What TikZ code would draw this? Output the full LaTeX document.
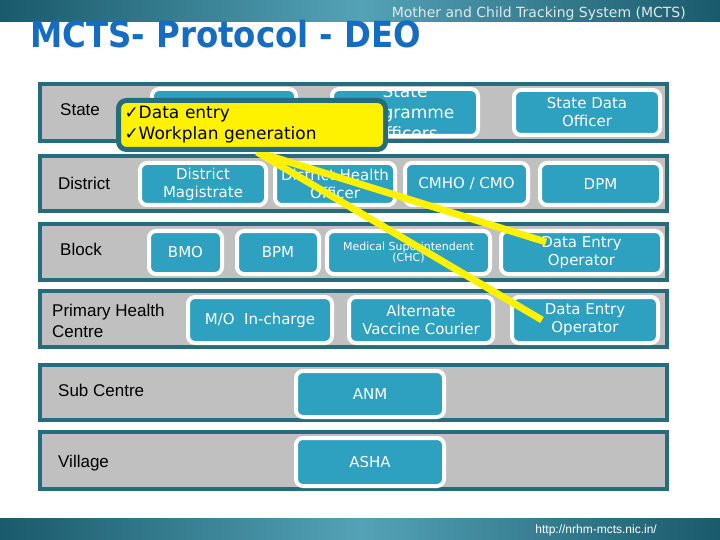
\documentclass[tikz,border=0pt]{standalone}
\usepackage{fontspec}
\setmainfont{DejaVu Sans}
\newfontfamily\arialfont{Liberation Sans}
\usetikzlibrary{positioning}
\usepackage{xcolor}
\definecolor{rowteal}{RGB}{36,108,126}
\definecolor{rowgrey}{RGB}{192,192,192}
\definecolor{postteal}{RGB}{46,160,192}
\definecolor{titleblue}{RGB}{22,108,192}
\definecolor{banddark}{RGB}{26,90,108}
\definecolor{bandmid}{RGB}{84,162,182}
\pgfdeclarelayer{top}
\pgfsetlayers{main,top}

\begin{document}
\begin{tikzpicture}[x=1pt, y=-1pt]
    \tikzstyle{tier} = [draw=rowteal, fill=rowgrey, line width=4pt, minimum width=627pt, inner sep=0pt];
    \tikzstyle{post} = [draw=white, fill=postteal, line width=4pt, rounded corners=7pt, text=white, align=center, inner sep=0pt, font=\fontsize{15}{18}\selectfont];
    \tikzstyle{lvl} = [anchor=west, align=left, inner sep=0pt, font=\arialfont\fontsize{17}{21}\selectfont];
    \tikzstyle{note} = [draw=rowteal, fill=yellow, line width=5pt, rounded corners=8pt, align=left, text width=255pt, inner sep=6pt, minimum height=49pt, font=\fontsize{17}{21}\selectfont];
    \tikzstyle{pointer} = [yellow, line width=7pt];

    \useasboundingbox (0,0) rectangle (720,540);
    \fill[white] (0,0) rectangle (720,540);

    % banners
    \shade[left color=banddark, right color=banddark, middle color=bandmid] (0,0) rectangle (720,22);
    \shade[left color=banddark, right color=banddark, middle color=bandmid] (0,518) rectangle (720,540);
    \node[anchor=base east, inner sep=0pt, text=white!85!rowteal, font=\fontsize{14}{14}\selectfont] (sub) at (686,18) {Mother and Child Tracking System (MCTS)};
    \node[anchor=base west, inner sep=0pt, text=titleblue, font=\bfseries\fontsize{36}{36}\selectfont] (title) at (30,48) {\scalebox{0.9}[1]{MCTS- Protocol - DEO}};
    \node[anchor=base east, inner sep=0pt, text=white, font=\arialfont\fontsize{12}{12}\selectfont] (url) at (657,533) {http://nrhm-mcts.nic.in/};

    % tiers
    \node[tier, minimum height=57pt] (state) at (353.5,112.5) {};
    \node[tier, minimum height=55pt] (district) at (353.5,183.5) {};
    \node[tier, minimum height=56pt] (block) at (353.5,252) {};
    \node[tier, minimum height=56pt] (phc) at (353.5,319) {};
    \node[tier, minimum height=55pt] (subc) at (353.5,392.5) {};
    \node[tier, minimum height=57pt] (village) at (353.5,460.5) {};

    \node[lvl] (lstate) at (60,110) {State};
    \node[lvl] (ldistrict) at (58,183) {District};
    \node[lvl] (lblock) at (60,249) {Block};
    \node[lvl] (lphc) at (52,320.5) {Primary Health\\Centre};
    \node[lvl] (lsubc) at (58,390) {Sub Centre};
    \node[lvl] (lvillage) at (58,463) {Village};

    % posts
    \node[post, minimum width=144pt, minimum height=47pt] (s1) at (224,112.5) {};
    \node[post, minimum width=146pt, minimum height=47pt,
          path picture={\node[text=white, align=center, font=\fontsize{17}{21}\selectfont] at (path picture bounding box.center) {State\\Programme\\Officers};}] (s2) at (405,112.5) {};
    \node[post, minimum width=146pt, minimum height=45pt] (s3) at (587,112.5) {State Data\\Officer};

    \node[post, minimum width=126pt, minimum height=42pt] (d1) at (203,184) {District\\Magistrate};
    \node[post, minimum width=120pt, minimum height=42pt] (d2) at (335,184) {District Health\\Officer};
    \node[post, minimum width=123pt, minimum height=42pt] (d3) at (466.5,184) {CMHO / CMO};
    \node[post, minimum width=121pt, minimum height=42pt] (d4) at (600.5,184) {DPM};

    \node[post, minimum width=73pt, minimum height=43pt] (b1) at (185.5,252.5) {BMO};
    \node[post, minimum width=82pt, minimum height=43pt] (b2) at (278,252.5) {BPM};
    \node[post, minimum width=163pt, minimum height=43pt, font=\fontsize{11}{11}\selectfont] (b3) at (408.5,252.5) {Medical Superintendent\\(CHC)};
    \node[post, minimum width=161pt, minimum height=43pt] (b4) at (581.5,252.5) {Data Entry\\Operator};

    \node[post, minimum width=144pt, minimum height=46pt] (p1) at (260,320) {M/O\ \ In-charge};
    \node[post, minimum width=144pt, minimum height=46pt] (p2) at (421,320) {Alternate\\Vaccine Courier};
    \node[post, minimum width=146pt, minimum height=46pt] (p3) at (585,320) {Data Entry\\Operator};

    \node[post, minimum width=148pt, minimum height=46pt] (anm) at (370,394) {ANM};
    \node[post, minimum width=148pt, minimum height=48pt] (asha) at (370,462) {ASHA};

    % callout
    \begin{pgfonlayer}{top}
        \node[note] (memo) at (252,125) {✓Data entry\\✓Workplan generation};
    \end{pgfonlayer}
    \coordinate (tipa) at (546,242);
    \coordinate (tipb) at (542,320);
    \draw[pointer] ([xshift=5pt]memo.south) -- (tipa);
    \draw[pointer] ([xshift=5pt]memo.south) -- (tipb);
\end{tikzpicture}
\end{document}
